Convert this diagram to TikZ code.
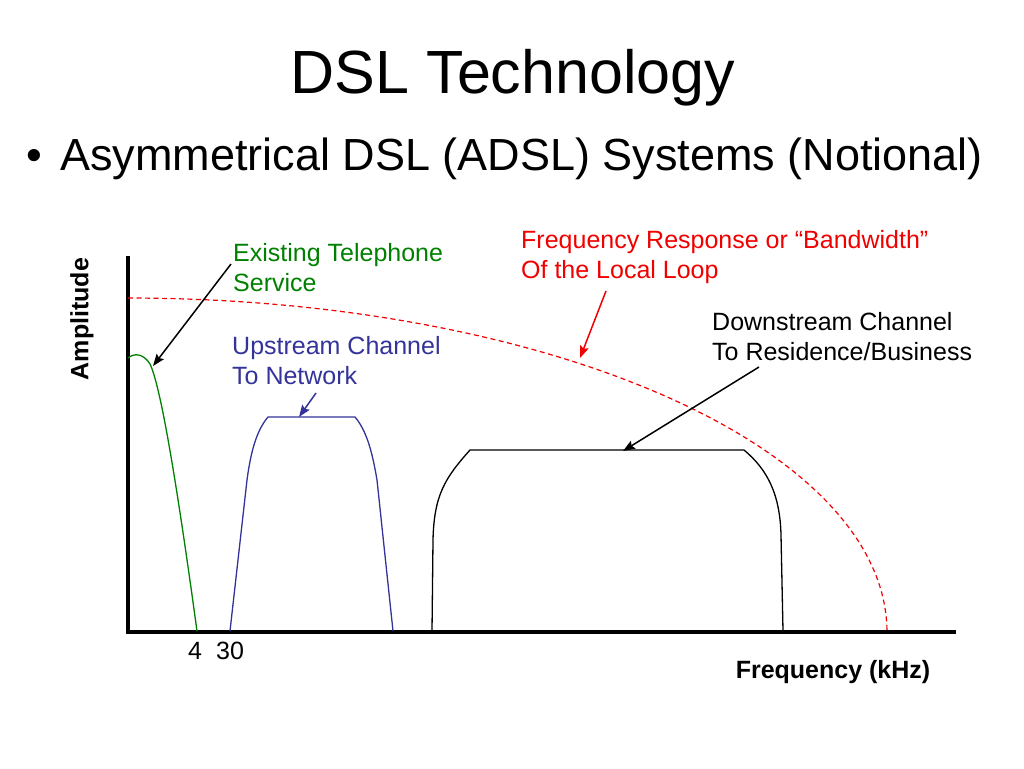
\documentclass[tikz,border=0pt]{standalone}
\usepackage{fontspec}
\setmainfont{Liberation Sans}
\usetikzlibrary{positioning, arrows.meta}

\definecolor{telgreen}{RGB}{0,128,0}
\definecolor{upblue}{RGB}{51,51,153}
\definecolor{loopred}{RGB}{240,0,0}

\begin{document}
\begin{tikzpicture}[
    x=1pt, y=-1pt,
    label/.style={align=left, anchor=base west, inner sep=0pt, font=\fontsize{25}{30}\selectfont},
    axislabel/.style={inner sep=0pt, font=\fontsize{25}{30}\selectfont\bfseries},
    band/.style={line width=1.3pt, line join=round},
    pointer/.style={-{Stealth[length=12pt, width=9pt, inset=2pt]}, line width=1.5pt},
    axisline/.style={line width=3.3pt},
    loopline/.style={loopred, line width=1.2pt, dash pattern=on 5pt off 3.5pt}
]
\useasboundingbox (0,0) rectangle (1024,768);

% Title and bullet
\node[font=\fontsize{61}{73}\selectfont, anchor=base] (title) at (513,93) {DSL Technology};
\node[font=\fontsize{45}{54}\selectfont, anchor=base west, inner sep=0pt] (bullet) at (26,170) {•};
\node[font=\fontsize{45}{54}\selectfont, anchor=base west, inner sep=0pt] (subtitle) at (60,170) {Asymmetrical DSL (ADSL) Systems (Notional)};

% Axes
\coordinate (origin) at (128,632);
\coordinate (ytop) at (128,256);
\coordinate (xend) at (956,632);
\draw[axisline] (ytop) -- (origin) -- (xend);

\node[axislabel, rotate=90] (amp) at (82,319) {Amplitude};
\node[axislabel] (freq) at (833,672) {Frequency (kHz)};
\node[label, anchor=base] (f4) at (195,659) {4};
\node[label, anchor=base] (f30) at (230,659) {30};

% Frequency response of the loop
\draw[loopline] plot[domain=90:0, samples=80] ({128+759*cos(\x)}, {632-334*sin(\x)});

% Telephone band
\draw[band, telgreen] (128,358) .. controls (134,353) and (143,353) .. (150,364)
    .. controls (160,385) and (175,470) .. (197,631);

% Upstream band
\draw[band, upblue] (230,631) -- (247,480) .. controls (251,450) and (257,430) .. (268,417)
    -- (355,417) .. controls (366,430) and (372,450) .. (377,480) -- (393,631);

% Downstream band
\draw[band] (432,631) -- (433,540) .. controls (434,495) and (445,478) .. (470,450)
    -- (744,450) .. controls (768,470) and (780,495) .. (781,535) -- (783,631);

% Labels (base = last line)
\node[label, text=telgreen] (tel) at (233,291) {Existing Telephone\\Service};
\node[label, text=upblue] (up) at (232,384) {Upstream Channel\\To Network};
\node[label, text=loopred] (loop) at (521,278) {Frequency Response or “Bandwidth”\\Of the Local Loop};
\node[label] (down) at (712,360) {Downstream Channel\\To Residence/Business};

% Pointers
\coordinate (telstart) at (231,264);
\coordinate (teltip) at (153,366);
\coordinate (upstart) at (316,393);
\coordinate (uptip) at (299,417);
\coordinate (loopstart) at (606,291);
\coordinate (looptip) at (580,358);
\coordinate (downstart) at (759,367);
\coordinate (downtip) at (623,451);

\draw[pointer] (telstart) -- (teltip);
\draw[pointer, upblue] (upstart) -- (uptip);
\draw[pointer, loopred] (loopstart) -- (looptip);
\draw[pointer] (downstart) -- (downtip);

\end{tikzpicture}
\end{document}
